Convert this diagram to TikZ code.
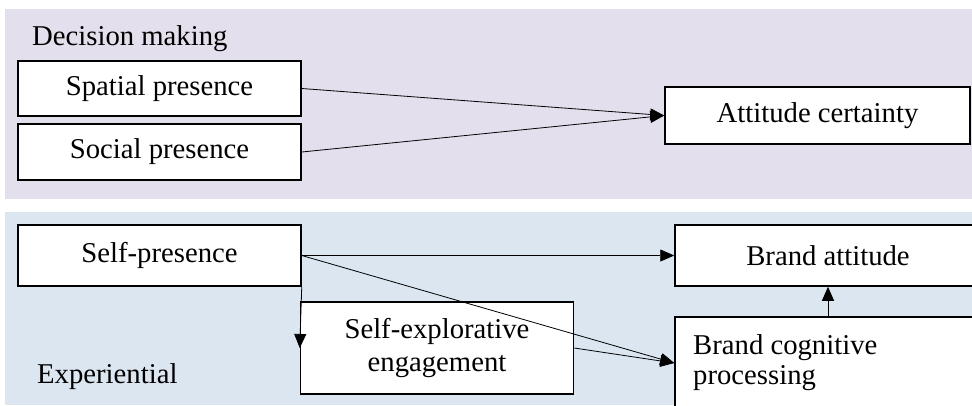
\documentclass[tikz,border=0pt]{standalone}
\usepackage{fontspec}
\setmainfont{Liberation Serif}
\usetikzlibrary{arrows.meta}
\definecolor{decisionbg}{RGB}{228,223,236}
\definecolor{experbg}{RGB}{220,230,241}
\tikzstyle{box} = [draw, fill=white, line width=1.5pt, inner sep=0pt]
\tikzstyle{line} = [draw, line width=0.8pt, -{Triangle[length=14pt,width=12pt]}]

\begin{document}
\begin{tikzpicture}[x=1pt, y=-1pt, font=\fontsize{28.7}{33}\selectfont]
    % Page size
    \path[use as bounding box, clip] (0,0) rectangle (972,405);
    % Draw the two panels
    \fill[decisionbg] (5,9) rectangle (972,199);
    \fill[experbg] (5,212) rectangle (972,405);
    \node[anchor=base west, inner sep=0pt] (decision) at (32,45) {Decision making};
    \node[anchor=base west, inner sep=0pt] (exper) at (37,383) {Experiential};
    % Decision making boxes
    \node[box, minimum width=283pt, minimum height=55pt] (spatial) at (159.5,88.5) {Spatial presence};
    \node[box, minimum width=283pt, minimum height=56pt] (social) at (159.5,152) {Social presence};
    \node[box, minimum width=305pt, minimum height=57pt] (certainty) at (817.5,115.5) {Attitude certainty};
    % Experiential boxes
    \node[box, minimum width=283pt, minimum height=61pt] (selfp) at (159.5,255.5) {Self-presence};
    \node[box, minimum width=273pt, minimum height=92pt, align=center] (explore) at (437,348) {Self-explorative\\engagement};
    \node[box, minimum width=306pt, minimum height=61pt] (battitude) at (828,255.5) {Brand attitude};
    \node[box, minimum width=306pt, minimum height=92pt] (bcog) at (828,363) {};
    \node[anchor=north west, align=left, inner sep=0pt, font=\fontsize{28.7}{30}\selectfont] (bcogtext) at (693,334) {Brand cognitive\\processing};
    % Connectors
    \path[line] (spatial.east) -- (certainty.west);
    \path[line] (social.east) -- (certainty.west);
    \path[line] (selfp.east) -- (battitude.west);
    \path[line] (selfp.east) -- (bcog.west);
    \path[line] (selfp.south east) -- (explore.west);
    \path[line] (explore.east) -- (bcog.west);
    \path[line] (bcog.north) -- (battitude.south);
\end{tikzpicture}
\end{document}
